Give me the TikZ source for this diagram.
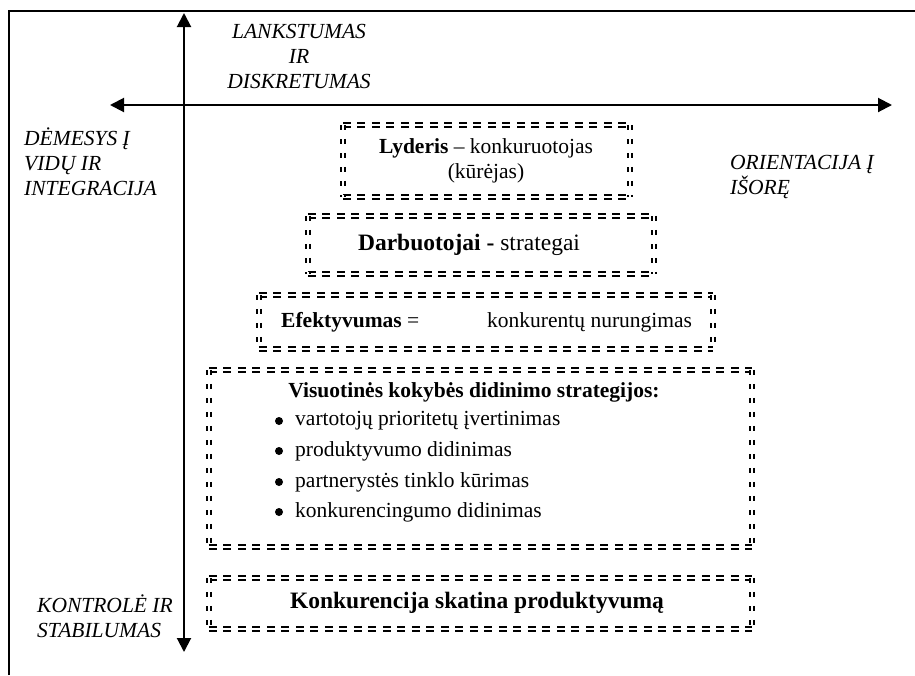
\documentclass[tikz,border=0pt]{standalone}
\usepackage{fontspec}
\setmainfont{Liberation Serif}
\usetikzlibrary{arrows.meta}
\begin{document}
\begin{tikzpicture}[x=1pt,y=-1pt,
  frame/.style={line width=2pt},
  axis/.style={line width=2pt,{Triangle[length=14pt,width=14pt]}-{Triangle[length=14pt,width=14pt]}},
  dbox/.style={inner sep=0pt},
  dline/.style={line width=2.2pt,double,double distance=2pt},
  hdash/.style={dline,dash pattern=on 8pt off 6.5pt},
  vdash/.style={dline,dash pattern=on 5pt off 9pt},
  lbl/.style={font=\fontsize{21.5}{25}\selectfont\itshape,inner sep=0pt,align=left},
  txt/.style={font=\fontsize{21.5}{25}\selectfont,inner sep=0pt},
  bullet/.style={circle,fill,inner sep=0pt,minimum size=8pt},
]
\useasboundingbox (0,0) rectangle (915,675);
% frame (top and left edges)
\draw[frame] (9,675) -- (9,11) -- (915,11);

% axes
\coordinate (vtop) at (184,13);
\coordinate (vbot) at (184,652);
\coordinate (hleft) at (110,105);
\coordinate (hright) at (892,105);
\draw[axis] (vbot) -- (vtop);
\draw[axis] (hleft) -- (hright);

% axis labels
\node[lbl,align=center] (up) at (299,56) {LANKSTUMAS\\IR\\DISKRETUMAS};
\node[lbl,anchor=west] (inner) at (24,162) {DĖMESYS Į\\VIDŲ IR\\INTEGRACIJA};
\node[lbl,anchor=west] (outer) at (730,177) {ORIENTACIJA Į\\IŠORĘ};
\node[lbl,anchor=west] (down) at (37,616) {KONTROLĖ IR\\STABILUMAS};

% levels
\node[dbox,minimum width=287pt,minimum height=72pt] (b1) at (486.5,161) {};
\node[txt,align=center] (t1) at (486,161) {\textbf{Lyderis} – konkuruotojas\\(kūrėjas)};

\node[dbox,minimum width=346pt,minimum height=58pt] (b2) at (481,245) {};
\node[txt,font=\fontsize{23.5}{27}\selectfont] (t2) at (469,245) {\textbf{Darbuotojai -} strategai};

\node[dbox,minimum width=454pt,minimum height=54pt] (b3) at (486,322) {};
\node[txt,anchor=west] (t3a) at (281,322) {\textbf{Efektyvumas} =};
\node[txt,anchor=west] (t3b) at (487,322) {konkurentų nurungimas};

\node[dbox,minimum width=543pt,minimum height=177pt] (b4) at (480.5,458.5) {};
\node[txt] (t4) at (474,392) {\textbf{Visuotinės kokybės didinimo strategijos:}};
\foreach \y/\s [count=\i] in {421/vartotojų prioritetų įvertinimas,
                              451/produktyvumo didinimas,
                              482/partnerystės tinklo kūrimas,
                              512/konkurencingumo didinimas}{
  \node[bullet] (bul\i) at (279,\y) {};
  \node[txt,anchor=west] (it\i) at (295,\y) {\s};
}

\node[dbox,minimum width=543pt,minimum height=51pt] (b5) at (480.5,603.5) {};
\node[txt,font=\fontsize{23.5}{27}\selectfont\bfseries] (t5) at (477,603) {Konkurencija skatina produktyvumą};

% double dashed borders: long dashes along the top and bottom, short ones on the sides
\foreach \b in {b1,b2,b3,b4,b5}{
  \draw[hdash] (\b.north west) -- (\b.north east);
  \draw[hdash] (\b.south west) -- (\b.south east);
  \draw[vdash] (\b.north west) -- (\b.south west);
  \draw[vdash] (\b.north east) -- (\b.south east);
}
\end{tikzpicture}
\end{document}
